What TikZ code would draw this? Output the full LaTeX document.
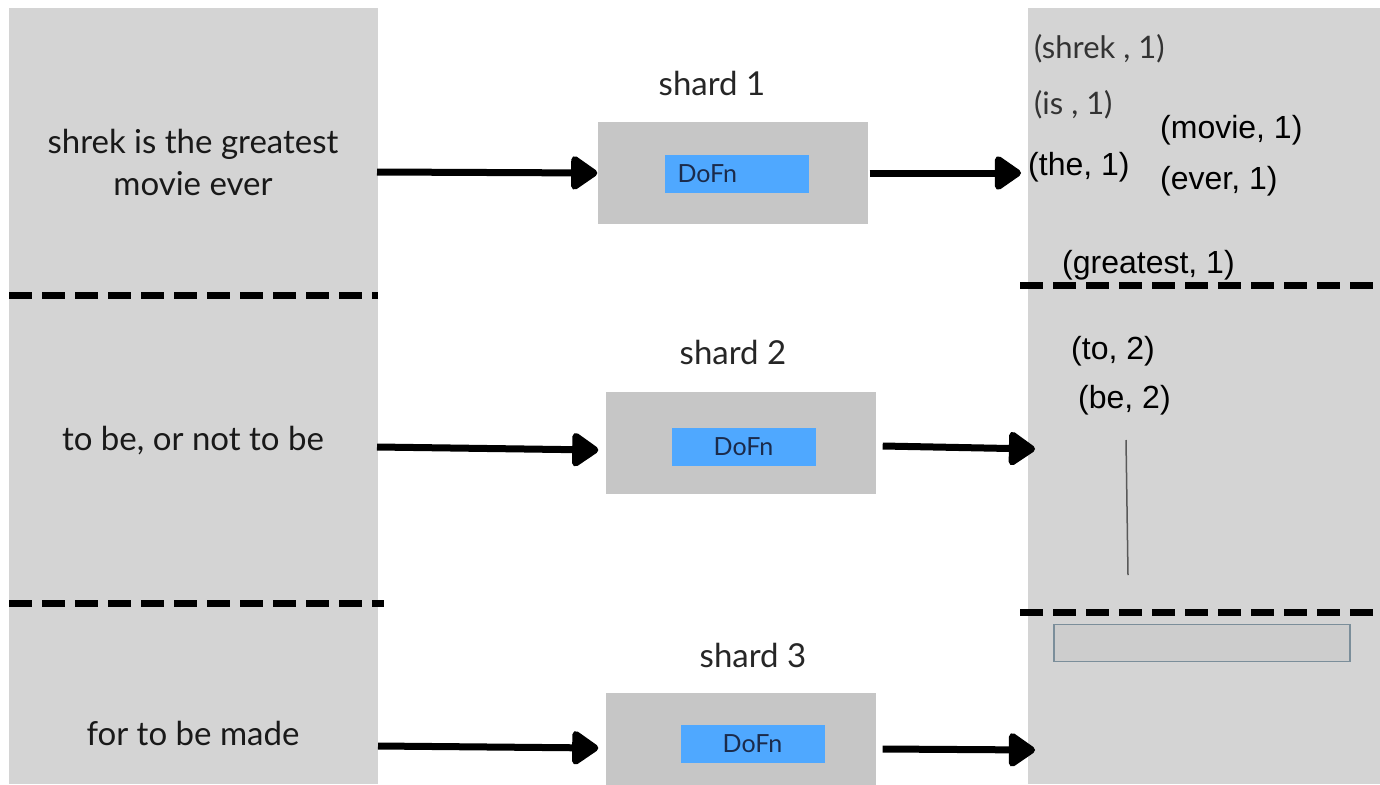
\documentclass[tikz,border=0pt]{standalone}
\usepackage{fontspec}
\usetikzlibrary{arrows.meta}
\newfontfamily\lato{Lato}
\newfontfamily\arialx{Liberation Sans}
\definecolor{panelgray}{HTML}{D4D4D4}
\definecolor{shardgray}{HTML}{C6C6C6}
\definecolor{dofnblue}{HTML}{4FA8FF}
\definecolor{dofntext}{HTML}{1B2B4B}
\definecolor{slot}{HTML}{CDCDCD}
\definecolor{slotedge}{HTML}{7B8E9A}
\begin{document}
\begin{tikzpicture}[x=1pt,y=-1pt,
  panel/.style={fill=panelgray,draw=none},
  shardbox/.style={fill=shardgray,draw=none,minimum width=270pt,minimum height=102pt,inner sep=0pt},
  dofnbox/.style={fill=dofnblue,draw=none,minimum width=144pt,minimum height=38pt,inner sep=0pt,
    text=dofntext,font=\lato\fontsize{25}{28}\selectfont},
  shardlabel/.style={font=\lato\fontsize{33}{38}\selectfont,text=black!85},
  sentence/.style={align=center,font=\lato\fontsize{33}{42}\selectfont,text=black!90},
  pair/.style={anchor=west,inner sep=0pt,font=\arialx\fontsize{32}{36}\selectfont,text=black},
  pairlight/.style={anchor=west,inner sep=0pt,font=\lato\fontsize{31}{36}\selectfont,text=black!80},
  sep/.style={line width=7pt,dash pattern=on 23pt off 10pt},
  arr/.style={line width=7pt,-{Triangle[length=29pt,width=38pt,line join=round,round]}}]
\useasboundingbox (0,0) rectangle (1380,784);
\fill[white] (0,0) rectangle (1380,784);

% input and output panels
\fill[panel] (9,8) rectangle (378,784);
\fill[panel] (1028,8) rectangle (1380,784);

% partition separators
\draw[sep] (9,295) -- (378,295);
\draw[sep] (9,603) -- (384,603);
\draw[sep] (1020,285) -- (1380,285);
\draw[sep] (1020,612) -- (1380,612);

% input sentences
\node[sentence] (s1) at (193,162) {shrek is the greatest\\movie ever};
\node[sentence] (s2) at (193,441) {to be, or not to be};
\node[sentence] (s3) at (193,733) {for to be made};

% shards
\node[shardbox] (sh1) at (732.5,173) {};
\node[shardbox] (sh2) at (740.5,442.5) {};
\node[shardbox,minimum height=100pt] (sh3) at (740.5,743) {};
\node[dofnbox,text width=130pt,align=left] (d1) at (736.5,173.5) {\hspace*{6pt}DoFn};
\node[dofnbox] (d2) at (743.5,447) {DoFn};
\node[dofnbox] (d3) at (752.5,744) {DoFn};
\node[shardlabel] (l1) at (712,83) {shard 1};
\node[shardlabel] (l2) at (733,352) {shard 2};
\node[shardlabel] (l3) at (753,655) {shard 3};

% arrow end points on the panels
\coordinate (in1) at (377,172);
\coordinate (in2) at (377,447);
\coordinate (in3) at (378,746);
\coordinate (out1) at (1021,173);
\coordinate (out2) at (1035,449);
\coordinate (out3) at (1035,750);

\draw[arr] (in1) -- (sh1.west);
\draw[arr] (in2) -- ([xshift=-7pt,yshift=-7.5pt]sh2.west);
\draw[arr] (in3) -- ([xshift=-7pt,yshift=-5pt]sh3.west);
\draw[arr] ([xshift=2pt]sh1.east) -- (out1);
\draw[arr] ([xshift=7pt,yshift=-3.5pt]sh2.east) -- (out2);
\draw[arr] ([xshift=7pt,yshift=-6pt]sh3.east) -- (out3);

% emitted key/value pairs
\node[pairlight] (p1) at (1034,49) {(shrek , 1)};
\node[pairlight] (p2) at (1034,105) {(is , 1)};
\node[pair] (p3) at (1028,167) {(the, 1)};
\node[pair] (p4) at (1160,130) {(movie, 1)};
\node[pair] (p5) at (1160,181) {(ever, 1)};
\node[pair] (p6) at (1062,265) {(greatest, 1)};
\node[pair] (p7) at (1071,351) {(to, 2)};
\node[pair] (p8) at (1078,400) {(be, 2)};

% thin marker and empty slot
\coordinate (m1) at (1126,440);
\coordinate (m2) at (1128,575);
\draw[line width=1.5pt,black!65] (m1) -- (m2);
\node[fill=slot,draw=slotedge,line width=1.5pt,minimum width=296pt,minimum height=37pt,inner sep=0pt] (slot) at (1202,643) {};
\end{tikzpicture}
\end{document}
